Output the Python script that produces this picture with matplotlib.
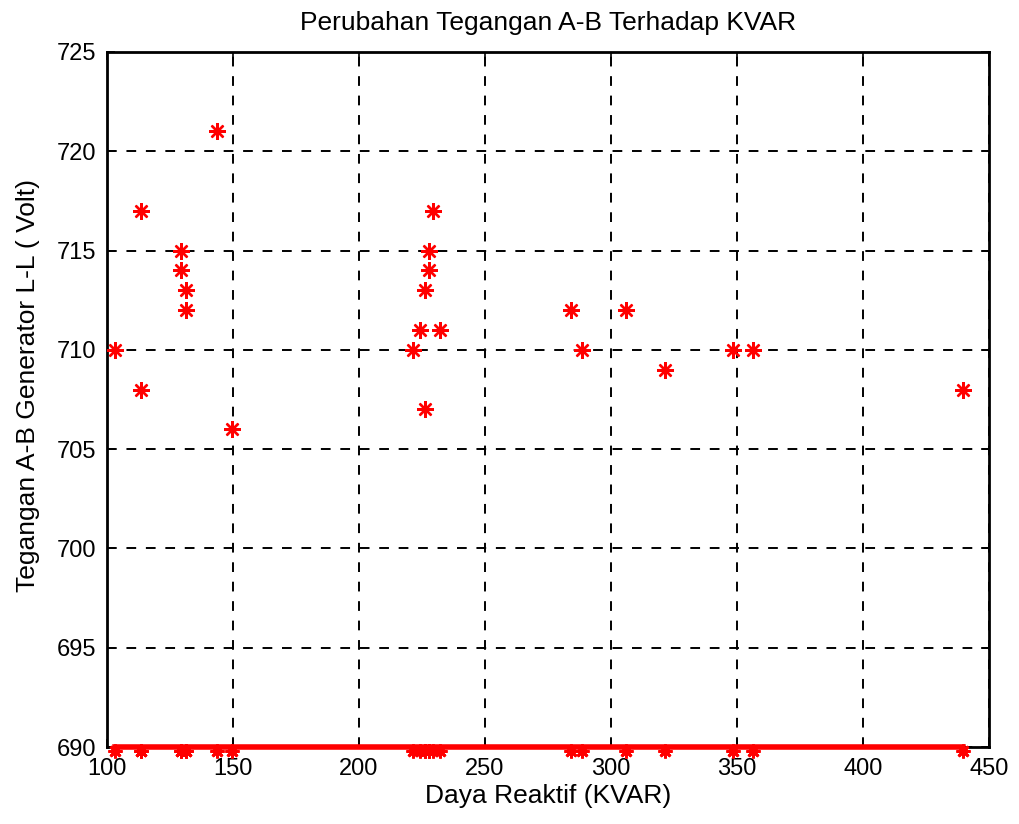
import matplotlib
matplotlib.use("Agg")
import matplotlib.pyplot as plt

kvar = [103.2, 113.5, 113.5, 143.7, 129.4, 129.4, 131.3, 131.3, 149.6,
        229.4, 227.8, 227.8, 226.2, 224.2, 232.1, 221.4, 226.2,
        284.1, 288.5, 306.0, 321.4, 348.4, 356.3, 439.7]
volt = [710, 717, 708, 721, 715, 714, 713, 712, 706,
        717, 715, 714, 713, 711, 711, 710, 707,
        712, 710, 712, 709, 710, 710, 708]
base_v = 690

xticks = [100, 150, 200, 250, 300, 350, 400, 450]
yticks = [690, 695, 700, 705, 710, 715, 720, 725]

plt.rcParams['font.family'] = ['Liberation Sans', 'DejaVu Sans']

fig = plt.figure(figsize=(10.19, 8.24), dpi=100)
ax = fig.add_axes([0.105, 0.0934, 0.8656, 0.8435])

star = (8, 2, 0)

# baseline series
ax.plot([min(kvar), max(kvar)], [base_v, base_v], color='red', lw=4, zorder=3, clip_on=False)
ax.plot(kvar, [base_v - 0.2] * len(kvar), linestyle='none', marker=star, color='red',
        markersize=10, markeredgewidth=2, zorder=4, clip_on=False)

# measured points
ax.plot(kvar, volt, linestyle='none', marker=star, color='red', markersize=12,
        markeredgewidth=1.7, zorder=4)

ax.set_xlim(100, 450)
ax.set_ylim(690, 725)
ax.set_xticks(xticks)
ax.set_yticks(yticks)
ax.grid(True, color='black', linestyle=(0, (5, 5)), linewidth=1.4)
ax.tick_params(direction='in', top=True, right=True, labelsize=17, length=6, width=1.2, pad=8)
for s in ax.spines.values():
    s.set_linewidth(2)

ax.set_title('Perubahan Tegangan A-B Terhadap KVAR', fontsize=19, pad=16)
ax.set_xlabel('Daya Reaktif (KVAR)', fontsize=19, labelpad=3)
ax.set_ylabel('Tegangan A-B Generator L-L ( Volt)', fontsize=19, labelpad=10)
ax.yaxis.set_label_coords(-0.076, 0.52)

fig.savefig('out.png', dpi=100)
